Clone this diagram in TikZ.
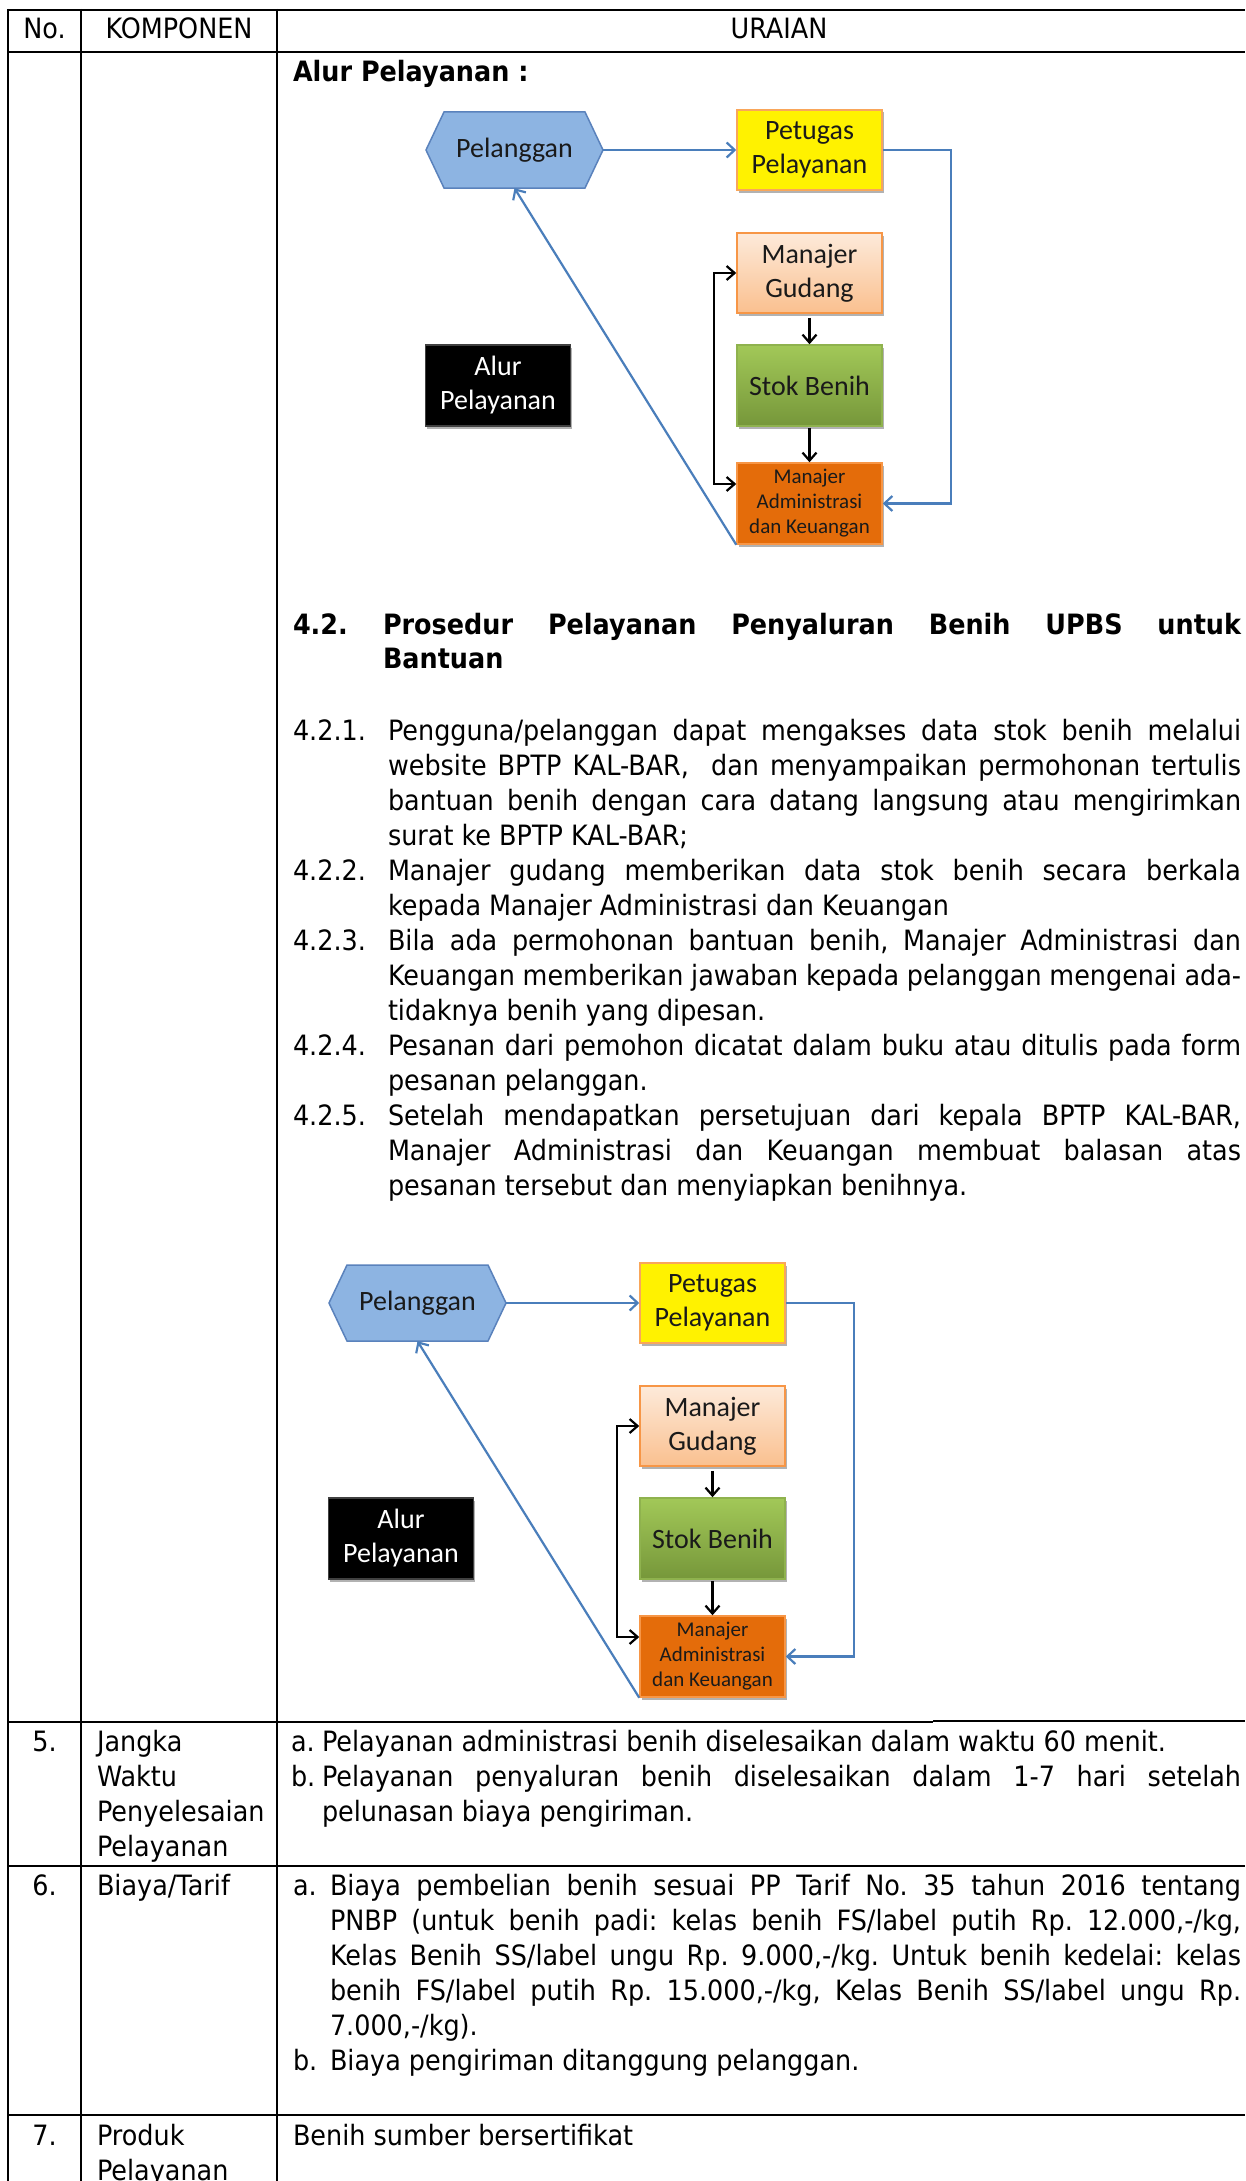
\documentclass[tikz,border=0pt]{standalone}
\usepackage{fontspec}
\setmainfont{DejaVu Sans}[FakeStretch=0.91]
\newfontfamily\calibrifont{Carlito}
\usetikzlibrary{arrows.meta,shadows}
\definecolor{hexfill}{HTML}{8DB4E2}
\definecolor{hexdraw}{HTML}{5A82BC}
\definecolor{bluearrow}{HTML}{4A7EBB}
\definecolor{petdraw}{HTML}{F9A65A}
\definecolor{gudtop}{HTML}{FDEADA}
\definecolor{gudbot}{HTML}{FAC08F}
\definecolor{orborder}{HTML}{F79646}
\definecolor{stoktop}{HTML}{A2C858}
\definecolor{stokbot}{HTML}{76973A}
\definecolor{stokborder}{HTML}{8FB24E}
\definecolor{adminfill}{HTML}{E46C0A}
\definecolor{boxtext}{HTML}{1A1A1A}
\frenchspacing
\tikzset{
  txt/.style={font=\fontsize{28}{35}\selectfont\frenchspacing, inner sep=0pt, outer sep=0pt, anchor=base west},
  ctxt/.style={font=\fontsize{28}{35}\selectfont, inner sep=0pt, outer sep=0pt, anchor=base},
  tbl/.style={line width=2pt, black},
  dbox/.style={rectangle, minimum width=145pt, minimum height=80pt, inner sep=0pt, align=center,
    font=\calibrifont\fontsize{28}{34}\selectfont, line width=1.5pt, text=boxtext,
    drop shadow={shadow xshift=1.5pt, shadow yshift=-2.5pt, opacity=.3, fill=black}},
  hexnode/.style={rectangle, minimum width=177pt, minimum height=76pt, inner sep=0pt,
    font=\calibrifont\fontsize{28}{34}\selectfont, text=boxtext},
  bluearr/.style={line width=2.2pt, bluearrow, -{Straight Barb[length=8pt,width=15pt]}},
  blackarr/.style={line width=2.2pt, black, -{Straight Barb[length=8pt,width=14pt]}},
  blackarrtwo/.style={line width=2.2pt, black, {Straight Barb[length=8pt,width=14pt]}-{Straight Barb[length=8pt,width=14pt]}}
}
\newcommand\jline[4]{\node[txt] (#1) at (#2,#3) {\makebox[\dimexpr 1241pt-#2pt\relax][s]{#4}};}
\newcommand\tline[4]{\node[txt] (#1) at (#2,#3) {#4};}
\newcommand\alurdiag[1]{%
  \fill[hexfill, draw=hexdraw, line width=1.5pt] (-311,40) -- (-293,2) -- (-152,2) -- (-134,40) -- (-152,78) -- (-293,78) -- cycle;
  \node[hexnode] (#1hex) at (-222.5,40) {Pelanggan};
  \node[dbox, fill=yellow, draw=petdraw] (#1pet) at (72.5,40) {Petugas\\Pelayanan};
  \node[dbox, top color=gudtop, bottom color=gudbot, draw=orborder] (#1gud) at (72.5,163) {Manajer\\Gudang};
  \node[dbox, top color=stoktop, bottom color=stokbot, draw=stokborder, minimum height=81pt] (#1stok) at (72.5,275.5) {Stok Benih};
  \node[dbox, fill=adminfill, draw=orborder, minimum height=81pt, font=\calibrifont\fontsize{21}{25}\selectfont] (#1adm) at (72.5,393.5) {Manajer\\Administrasi\\dan Keuangan};
  \node[dbox, fill=black, draw=black!75, text=white, minimum height=81pt] (#1alur) at (-239,275.5) {Alur\\Pelayanan};
  \coordinate (#1ra) at (214,40);
  \coordinate (#1rb) at (214,393.5);
  \coordinate (#1la) at (-23,163);
  \coordinate (#1lb) at (-23,374);
  \draw[bluearr] (#1hex.east) -- (#1pet.west);
  \draw[bluearr] (#1pet.east) -- (#1ra) -- (#1rb) -- (#1adm.east);
  \draw[bluearr] (#1adm.south west) -- (#1hex.south);
  \draw[blackarr, shorten <=4pt] (#1gud.south) -- (#1stok.north);
  \draw[blackarr, shorten <=1pt] (#1stok.south) -- (#1adm.north);
  \draw[blackarrtwo] (#1gud.west) -- (#1la) -- (#1lb) -- (#1adm.west |- #1lb);
}
\begin{document}
\begin{tikzpicture}[x=1pt, y=-1pt]
\useasboundingbox (0,0) rectangle (1245,2181);
\fill[white] (0,0) rectangle (1245,2181);
% table rules
\draw[tbl] (7,10) -- (1245,10);
\draw[tbl] (7,52) -- (1245,52);
\draw[tbl] (8,9) -- (8,2181);
\draw[tbl] (81,9) -- (81,2181);
\draw[tbl] (277,9) -- (277,2181);
\draw[tbl] (7,1722) -- (291,1722);
\draw[line width=1.2pt] (291,1722) -- (933,1722);
\draw[tbl] (933,1721) -- (1245,1721);
\draw[tbl] (7,1866) -- (1245,1866);
\draw[tbl] (7,2115) -- (1245,2115);
% header
\node[ctxt] (hno) at (44.5,39) {No.};
\node[ctxt] (hkomp) at (179,39) {KOMPONEN};
\node[ctxt] (hur) at (779,39) {URAIAN};
% alur
\tline{alurtitle}{293}{82}{\bfseries Alur Pelayanan :}
\begin{scope}[shift={(737,110)}]
\alurdiag{a}
\end{scope}
% heading 4.2
\tline{hnum}{293}{634}{\bfseries 4.2.}
\jline{hl1}{383}{634}{\bfseries Prosedur Pelayanan Penyaluran Benih UPBS untuk}
\tline{hl2}{383}{668}{\bfseries Bantuan}
% list
\tline{n1}{293}{740}{4.2.1.}
\jline{i1a}{388}{740}{Pengguna/pelanggan dapat mengakses data stok benih melalui}
\jline{i1b}{388}{775}{website BPTP KAL-BAR,\ \ dan menyampaikan permohonan tertulis}
\jline{i1c}{388}{810}{bantuan benih dengan cara datang langsung atau mengirimkan}
\tline{i1d}{388}{845}{surat ke BPTP KAL-BAR;}
\tline{n2}{293}{880}{4.2.2.}
\jline{i2a}{388}{880}{Manajer gudang memberikan data stok benih secara berkala}
\tline{i2b}{388}{915}{kepada Manajer Administrasi dan Keuangan}
\tline{n3}{293}{950}{4.2.3.}
\jline{i3a}{388}{950}{Bila ada permohonan bantuan benih, Manajer Administrasi dan}
\jline{i3b}{388}{985}{Keuangan memberikan jawaban kepada pelanggan mengenai ada-}
\tline{i3c}{388}{1020}{tidaknya benih yang dipesan.}
\tline{n4}{293}{1055}{4.2.4.}
\jline{i4a}{388}{1055}{Pesanan dari pemohon dicatat dalam buku atau ditulis pada form}
\tline{i4b}{388}{1090}{pesanan pelanggan.}
\tline{n5}{293}{1125}{4.2.5.}
\jline{i5a}{388}{1125}{Setelah mendapatkan persetujuan dari kepala BPTP KAL-BAR,}
\jline{i5b}{388}{1160}{Manajer Administrasi dan Keuangan membuat balasan atas}
\tline{i5c}{388}{1195}{pesanan tersebut dan menyiapkan benihnya.}
% second diagram
\begin{scope}[shift={(640,1263)}]
\alurdiag{b}
\end{scope}
% row 5
\node[ctxt] (r5no) at (44.5,1751) {5.};
\tline{r5ka}{97}{1751}{Jangka}
\tline{r5kb}{97}{1786}{Waktu}
\tline{r5kc}{97}{1821}{Penyelesaian}
\tline{r5kd}{97}{1856}{Pelayanan}
\tline{r5a}{291}{1751}{a.}
\tline{r5at}{322}{1751}{Pelayanan administrasi benih diselesaikan dalam waktu 60 menit.}
\tline{r5b}{291}{1786}{b.}
\jline{r5bt}{322}{1786}{Pelayanan penyaluran benih diselesaikan dalam 1-7 hari setelah}
\tline{r5bu}{322}{1821}{pelunasan biaya pengiriman.}
% row 6
\node[ctxt] (r6no) at (44.5,1895) {6.};
\tline{r6k}{97}{1895}{Biaya/Tarif}
\tline{r6a}{293}{1895}{a.}
\jline{r6a1}{330}{1895}{Biaya pembelian benih sesuai PP Tarif No. 35 tahun 2016 tentang}
\jline{r6a2}{330}{1930}{PNBP (untuk benih padi: kelas benih FS/label putih Rp. 12.000,-/kg,}
\jline{r6a3}{330}{1965}{Kelas Benih SS/label ungu Rp. 9.000,-/kg. Untuk benih kedelai: kelas}
\jline{r6a4}{330}{2000}{benih FS/label putih Rp. 15.000,-/kg, Kelas Benih SS/label ungu Rp.}
\tline{r6a5}{330}{2035}{7.000,-/kg).}
\tline{r6b}{293}{2070}{b.}
\tline{r6bt}{330}{2070}{Biaya pengiriman ditanggung pelanggan.}
% row 7
\node[ctxt] (r7no) at (44.5,2145) {7.};
\tline{r7ka}{97}{2145}{Produk}
\tline{r7kb}{97}{2180}{Pelayanan}
\tline{r7t}{293}{2145}{Benih sumber bersertifikat}
\end{tikzpicture}
\end{document}
